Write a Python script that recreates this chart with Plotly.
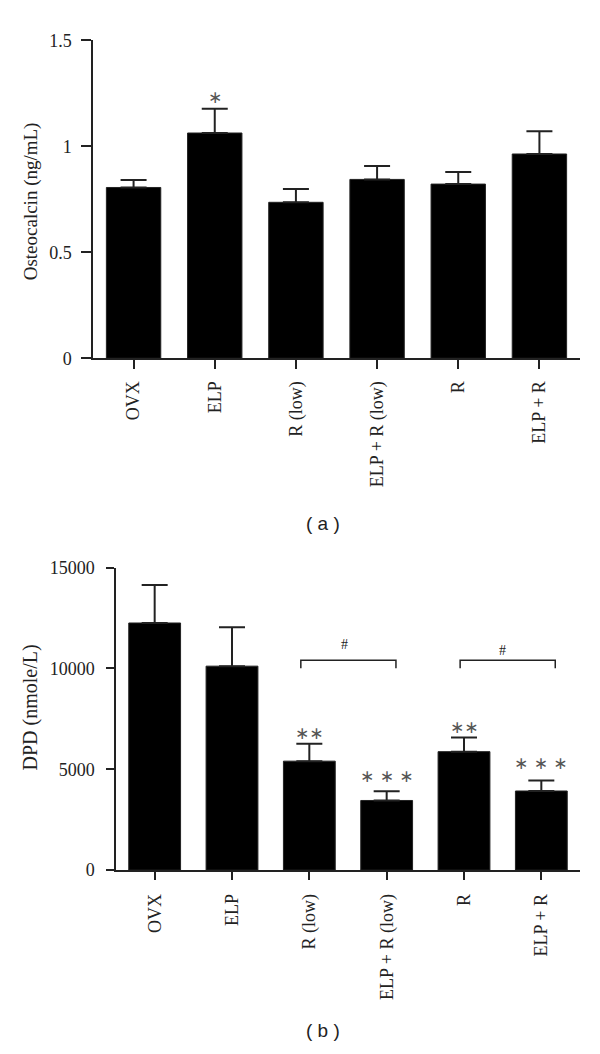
import plotly.graph_objects as go

groups = ["OVX", "ELP", "R (low)", "ELP + R (low)", "R", "ELP + R"]

osteocalcin = [0.806, 1.063, 0.736, 0.844, 0.822, 0.964]
osteocalcin_err = [0.035, 0.114, 0.063, 0.063, 0.057, 0.107]

dpd = [12250, 10110, 5400, 3450, 5870, 3920]
dpd_err = [1880, 1930, 860, 455, 700, 520]

a_ticks = [0, 0.5, 1, 1.5]
a_ticktext = ["0", "0.5", "1", "1.5"]
b_ticks = [0, 5000, 10000, 15000]
b_ticktext = ["0", "5000", "10000", "15000"]

SERIF = "Liberation Serif"
W, H = 600, 1054

fig = go.Figure()

fig.add_trace(go.Bar(
    x=groups, y=osteocalcin, width=0.67,
    marker=dict(color="black", line=dict(color="#222", width=1)),
    error_y=dict(type="data", array=osteocalcin_err, arrayminus=[0] * 6, symmetric=False,
                 color="#222", thickness=2, width=13),
    xaxis="x", yaxis="y", showlegend=False,
))
fig.add_trace(go.Bar(
    x=groups, y=dpd, width=0.67,
    marker=dict(color="black", line=dict(color="#222", width=1)),
    error_y=dict(type="data", array=dpd_err, arrayminus=[0] * 6, symmetric=False,
                 color="#222", thickness=2, width=13),
    xaxis="x2", yaxis="y2", showlegend=False,
))

axis_common = dict(showline=True, linecolor="#222", linewidth=1.5, ticks="outside",
                   tickcolor="#222", tickwidth=1.5, showgrid=False, zeroline=False,
                   tickfont=dict(family=SERIF, size=18, color="#222"))

fig.update_layout(
    width=W, height=H, margin=dict(l=0, r=0, t=0, b=0),
    plot_bgcolor="white", paper_bgcolor="white",
    xaxis=dict(domain=[93 / W, 580 / W], range=[-0.5, 5.5], anchor="y",
               tickangle=-90, ticklen=9, ticklabelstandoff=5, **axis_common),
    yaxis=dict(domain=[1 - 355 / H, 1 - 31 / H], range=[0, 1.5], anchor="x",
               tickvals=a_ticks, ticktext=a_ticktext, ticklen=10, ticklabelstandoff=6,
               **axis_common),
    xaxis2=dict(domain=[116 / W, 580 / W], range=[-0.5, 5.5], anchor="y2",
                tickangle=-90, ticklen=8, ticklabelstandoff=7, **axis_common),
    yaxis2=dict(domain=[1 - 876.7 / H, 1 - 568.3 / H], range=[0, 15000], anchor="x2",
                tickvals=b_ticks, ticktext=b_ticktext, ticklen=8, ticklabelstandoff=8,
                **axis_common),
)

anns = []
# y titles
anns.append(dict(text="Osteocalcin (ng/mL)", x=31 / W, y=1 - 195 / H, xref="paper", yref="paper",
                 xanchor="center", yanchor="middle",
                 textangle=-90, showarrow=False, font=dict(family=SERIF, size=19, color="#222")))
anns.append(dict(text="DPD (nmole/L)", x=31 / W, y=1 - 711 / H, xref="paper", yref="paper",
                 xanchor="center", yanchor="middle",
                 textangle=-90, showarrow=False, font=dict(family=SERIF, size=20, color="#222")))
# panel labels
anns.append(dict(text="( a )", x=323 / W, y=1 - 523 / H, xref="paper", yref="paper",
                 xanchor="center", yanchor="middle",
                 showarrow=False, font=dict(family="Liberation Sans", size=19, color="#222")))
anns.append(dict(text="( b )", x=323 / W, y=1 - 1040 / H, xref="paper", yref="paper",
                 xanchor="center", yanchor="middle",
                 showarrow=False, font=dict(family="Liberation Sans", size=19, color="#222")))

# significance marks
star_font = dict(family="DejaVu Sans", size=17, color="#555")
anns.append(dict(text="∗", x="ELP", y=1.231, xref="x", yref="y", showarrow=False, font=star_font))
anns.append(dict(text="∗∗", x="R (low)", y=6795, xref="x2", yref="y2", showarrow=False, font=star_font))
anns.append(dict(text="∗ ∗ ∗", x="ELP + R (low)", y=4664, xref="x2", yref="y2", showarrow=False, font=star_font))
anns.append(dict(text="∗∗", x="R", y=7101, xref="x2", yref="y2", showarrow=False, font=star_font))
anns.append(dict(text="∗ ∗ ∗", x="ELP + R", y=5301, xref="x2", yref="y2", showarrow=False, font=star_font))
hash_font = dict(family=SERIF, size=14, color="#222")
anns.append(dict(text="#", x=2.46, y=11187, xref="x2", yref="y2", showarrow=False, font=hash_font))
anns.append(dict(text="#", x=4.5, y=10895, xref="x2", yref="y2", showarrow=False, font=hash_font))
fig.update_layout(annotations=anns)

# brackets
for x0, x1 in [(1.89, 3.12), (3.95, 5.18)]:
    fig.add_shape(type="path", xref="x2", yref="y2",
                  path=f"M {x0},10005 L {x0},10408 L {x1},10408 L {x1},10005",
                  line=dict(color="#222", width=1.5))

fig.write_html("out.html", config={"displayModeBar": False},
               post_script="document.body.style.margin='0px';document.body.style.overflow='hidden';")
